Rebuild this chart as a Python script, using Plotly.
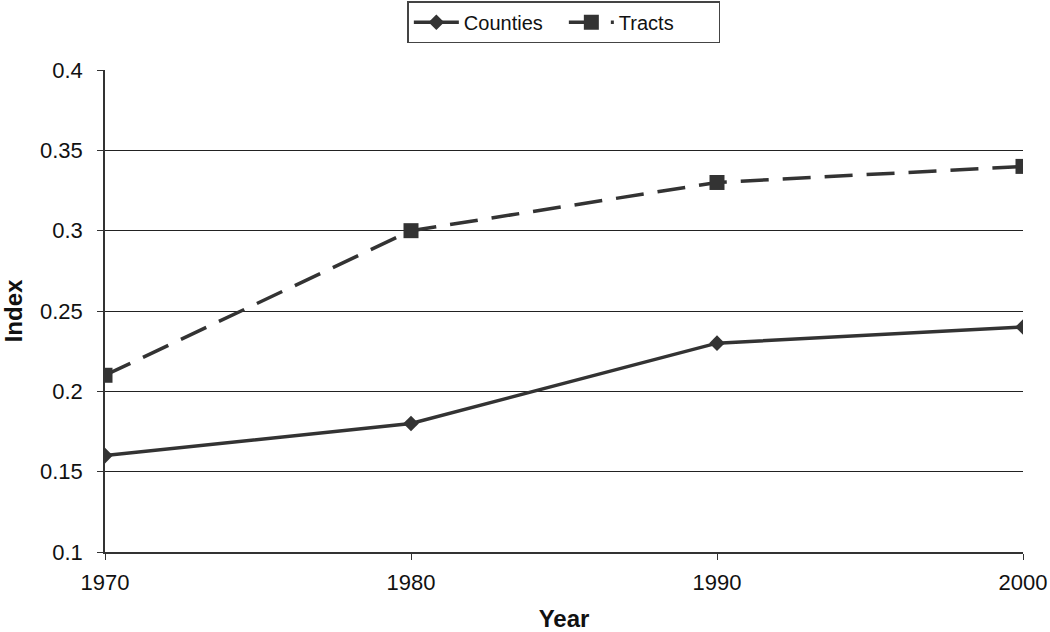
import plotly.graph_objects as go

years = [1970, 1980, 1990, 2000]
counties = [0.16, 0.18, 0.23, 0.24]
tracts = [0.21, 0.30, 0.33, 0.34]
y_ticks = [0.1, 0.15, 0.2, 0.25, 0.3, 0.35, 0.4]
y_labels = ["0.1", "0.15", "0.2", "0.25", "0.3", "0.35", "0.4"]

line_col = "#333333"

fig = go.Figure()

fig.add_trace(go.Scatter(
    x=years, y=counties, name="Counties", mode="lines+markers",
    line=dict(color=line_col, width=3.5),
    marker=dict(symbol="diamond", size=12, color=line_col),
))
fig.add_trace(go.Scatter(
    x=years, y=tracts, name="Tracts", mode="lines+markers",
    line=dict(color=line_col, width=3.5, dash="28px,14px"),
    marker=dict(symbol="square", size=15, color=line_col),
))

fig.update_layout(
    width=1050, height=632,
    margin=dict(l=105, r=27, t=70, b=80, autoexpand=False),
    plot_bgcolor="white", paper_bgcolor="white",
    font=dict(family="Liberation Sans, Arial, sans-serif", size=22, color="#111111"),
    legend=dict(
        orientation="h", x=0.537, xanchor="center", xref="container",
        y=0.998, yanchor="top", yref="container",
        bordercolor="#444444", borderwidth=1.5, bgcolor="white",
        font=dict(size=20), itemwidth=45, entrywidth=95,
        tracegroupgap=0,
    ),
    xaxis=dict(
        range=[1970, 2000], tickvals=years, showgrid=False, zeroline=False,
        showline=True, linecolor="#333333", linewidth=1.5,
        ticks="outside", ticklen=6, tickcolor="#333333", ticklabelstandoff=4,
        tickfont=dict(size=22),
        title=dict(text="<b>Year</b>", font=dict(size=24), standoff=20),
    ),
    yaxis=dict(
        range=[0.1, 0.4], showgrid=True,
        gridcolor="#222222", gridwidth=1, zeroline=False,
        showline=True, linecolor="#333333", linewidth=1.5,
        ticks="outside", ticklen=6, tickcolor="#333333", ticklabelstandoff=10,
        tickvals=y_ticks, ticktext=y_labels, tickfont=dict(size=22),
        title=dict(text="<b>Index</b>", font=dict(size=24), standoff=12),
    ),
)

fig.write_html("out.html", config={"displayModeBar": False},
               post_script="document.body.style.margin='0';")
